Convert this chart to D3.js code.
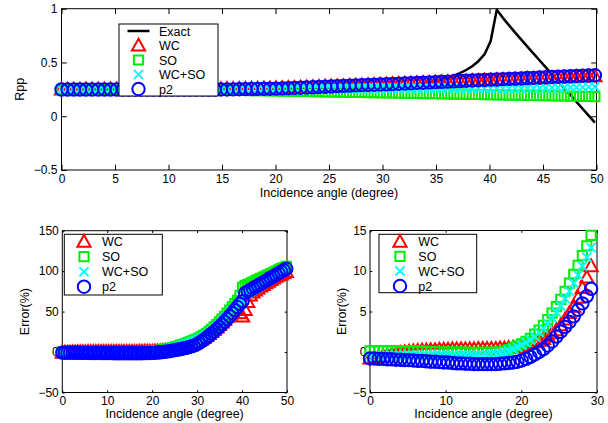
<!DOCTYPE html>
<html>
<head>
<meta charset="utf-8">
<script src="https://cdn.jsdelivr.net/npm/d3@7/dist/d3.min.js"></script>
<style>
  html, body { margin: 0; padding: 0; background: #fff; }
  svg { display: block; }
  text { font-family: "Liberation Sans", Arial, Helvetica, sans-serif; fill: #000; }
</style>
</head>
<body>
<svg id="fig" width="608" height="423"></svg>
<script>
// Incidence angles (degrees), sampled every 0.01 rad
const angleDeg = [
  0.00, 0.57, 1.15, 1.72, 2.29, 2.86, 3.44, 4.01, 4.58, 5.16,
  5.73, 6.30, 6.88, 7.45, 8.02, 8.59, 9.17, 9.74, 10.31, 10.89,
  11.46, 12.03, 12.61, 13.18, 13.75, 14.32, 14.90, 15.47, 16.04, 16.62,
  17.19, 17.76, 18.33, 18.91, 19.48, 20.05, 20.63, 21.20, 21.77, 22.35,
  22.92, 23.49, 24.06, 24.64, 25.21, 25.78, 26.36, 26.93, 27.50, 28.07,
  28.65, 29.22, 29.79, 30.37, 30.94, 31.51, 32.09, 32.66, 33.23, 33.80,
  34.38, 34.95, 35.52, 36.10, 36.67, 37.24, 37.82, 38.39, 38.96, 39.53,
  40.11, 40.68, 41.25, 41.83, 42.40, 42.97, 43.54, 44.12, 44.69, 45.26,
  45.84, 46.41, 46.98, 47.56, 48.13, 48.70, 49.27, 49.85
];

// PP reflection coefficient: exact solution
const rppExact = [
  0.250, 0.250, 0.250, 0.250, 0.250, 0.250, 0.250, 0.250, 0.250, 0.250,
  0.250, 0.250, 0.250, 0.250, 0.250, 0.250, 0.250, 0.250, 0.250, 0.250,
  0.250, 0.250, 0.250, 0.251, 0.251, 0.252, 0.252, 0.253, 0.253, 0.254,
  0.255, 0.256, 0.257, 0.258, 0.259, 0.259, 0.260, 0.261, 0.262, 0.263,
  0.265, 0.266, 0.267, 0.267, 0.268, 0.268, 0.269, 0.269, 0.270, 0.271,
  0.272, 0.273, 0.274, 0.277, 0.281, 0.285, 0.289, 0.293, 0.299, 0.306,
  0.316, 0.327, 0.341, 0.358, 0.378, 0.400, 0.430, 0.465, 0.512, 0.575,
  0.700, 0.990, 0.915, 0.845, 0.778, 0.712, 0.647, 0.582, 0.518, 0.454,
  0.390, 0.326, 0.262, 0.198, 0.134, 0.070, 0.005, -0.060
];

// PP reflection coefficient: approximations
const rppWC = [
  0.248, 0.248, 0.248, 0.248, 0.249, 0.249, 0.249, 0.249, 0.250, 0.250,
  0.250, 0.250, 0.250, 0.250, 0.250, 0.250, 0.251, 0.251, 0.251, 0.251,
  0.251, 0.251, 0.251, 0.252, 0.252, 0.253, 0.253, 0.254, 0.254, 0.255,
  0.256, 0.257, 0.258, 0.259, 0.260, 0.261, 0.262, 0.263, 0.265, 0.267,
  0.269, 0.271, 0.273, 0.275, 0.277, 0.279, 0.281, 0.283, 0.286, 0.288,
  0.290, 0.292, 0.294, 0.296, 0.298, 0.300, 0.303, 0.305, 0.307, 0.309,
  0.311, 0.314, 0.316, 0.318, 0.320, 0.322, 0.325, 0.327, 0.329, 0.331,
  0.333, 0.336, 0.338, 0.340, 0.342, 0.344, 0.347, 0.349, 0.351, 0.353,
  0.355, 0.358, 0.360, 0.362, 0.364, 0.366, 0.369, 0.371
];
const rppSO = [
  0.250, 0.250, 0.250, 0.250, 0.250, 0.250, 0.250, 0.250, 0.250, 0.249,
  0.249, 0.249, 0.249, 0.249, 0.248, 0.248, 0.248, 0.248, 0.247, 0.247,
  0.247, 0.246, 0.246, 0.245, 0.245, 0.244, 0.243, 0.243, 0.242, 0.241,
  0.240, 0.239, 0.238, 0.237, 0.236, 0.235, 0.234, 0.233, 0.232, 0.231,
  0.230, 0.229, 0.228, 0.227, 0.226, 0.225, 0.224, 0.223, 0.222, 0.221,
  0.220, 0.219, 0.218, 0.217, 0.216, 0.215, 0.214, 0.213, 0.212, 0.211,
  0.210, 0.209, 0.208, 0.207, 0.206, 0.205, 0.204, 0.203, 0.202, 0.201,
  0.200, 0.199, 0.198, 0.197, 0.196, 0.195, 0.194, 0.193, 0.192, 0.191,
  0.190, 0.189, 0.188, 0.187, 0.186, 0.185, 0.184, 0.183
];
const rppWCSO = [
  0.249, 0.249, 0.249, 0.249, 0.249, 0.249, 0.249, 0.249, 0.249, 0.249,
  0.249, 0.249, 0.249, 0.249, 0.249, 0.249, 0.249, 0.249, 0.249, 0.249,
  0.249, 0.249, 0.249, 0.249, 0.250, 0.250, 0.250, 0.251, 0.251, 0.251,
  0.252, 0.252, 0.252, 0.253, 0.253, 0.253, 0.254, 0.254, 0.254, 0.255,
  0.255, 0.255, 0.256, 0.256, 0.256, 0.257, 0.257, 0.257, 0.258, 0.258,
  0.258, 0.259, 0.259, 0.259, 0.259, 0.259, 0.259, 0.259, 0.259, 0.259,
  0.259, 0.259, 0.259, 0.259, 0.259, 0.259, 0.259, 0.259, 0.259, 0.259,
  0.259, 0.260, 0.260, 0.260, 0.261, 0.261, 0.262, 0.262, 0.263, 0.264,
  0.265, 0.266, 0.267, 0.268, 0.269, 0.270, 0.272, 0.274
];
const rppP2 = [
  0.248, 0.248, 0.248, 0.248, 0.248, 0.248, 0.248, 0.248, 0.248, 0.248,
  0.248, 0.248, 0.248, 0.248, 0.248, 0.248, 0.248, 0.248, 0.248, 0.248,
  0.248, 0.247, 0.247, 0.247, 0.248, 0.248, 0.249, 0.249, 0.250, 0.251,
  0.252, 0.253, 0.254, 0.255, 0.256, 0.257, 0.259, 0.261, 0.263, 0.265,
  0.267, 0.269, 0.272, 0.274, 0.277, 0.280, 0.282, 0.285, 0.287, 0.289,
  0.291, 0.293, 0.295, 0.297, 0.300, 0.302, 0.305, 0.307, 0.310, 0.312,
  0.315, 0.317, 0.320, 0.322, 0.325, 0.327, 0.330, 0.332, 0.335, 0.337,
  0.340, 0.342, 0.345, 0.347, 0.350, 0.352, 0.355, 0.357, 0.360, 0.362,
  0.365, 0.367, 0.370, 0.372, 0.374, 0.377, 0.379, 0.381
];

// Relative error of each approximation (%)
const errWC = [
  -0.8, -0.7, -0.6, -0.5, -0.4, -0.3, -0.2, -0.1, 0.0, 0.05,
  0.1, 0.15, 0.2, 0.2, 0.25, 0.25, 0.3, 0.3, 0.3, 0.35,
  0.35, 0.35, 0.35, 0.35, 0.35, 0.4, 0.4, 0.4, 0.4, 0.4,
  0.45, 0.45, 0.5, 0.55, 0.6, 0.7, 0.8, 1.0, 1.2, 1.4,
  1.6, 1.9, 2.3, 2.7, 3.3, 4.0, 4.8, 5.6, 6.7, 7.9,
  9.2, 10.6, 12.1, 13.8, 15.6, 17.6, 19.8, 22.2, 24.8, 27.5,
  30.4, 33.4, 36.6, 40.0, 43.5, 47.0, 50.0, 52.0, 54.0, 48.0,
  44.0, 52.0, 62.0, 70.0, 73.5, 76.0, 78.5, 81.0, 83.0, 85.0,
  87.0, 89.0, 91.0, 93.0, 94.5, 96.0, 97.5, 99.0
];
const errSO = [
  0.15, 0.15, 0.15, 0.15, 0.15, 0.15, 0.15, 0.1, 0.1, 0.1,
  0.1, 0.1, 0.1, 0.05, 0.05, 0.05, 0.05, 0.0, 0.0, 0.0,
  0.0, 0.0, 0.0, -0.05, -0.05, -0.05, -0.05, -0.05, 0.0, 0.0,
  0.05, 0.15, 0.3, 0.5, 0.75, 1.0, 1.3, 1.7, 2.2, 2.7,
  3.3, 4.0, 4.8, 5.6, 6.5, 7.5, 8.5, 9.6, 10.7, 11.9,
  13.1, 14.4, 15.8, 17.3, 19.0, 21.0, 23.2, 25.6, 28.2, 31.0,
  34.0, 37.2, 40.6, 44.2, 48.0, 52.0, 56.0, 60.0, 64.0, 70.0,
  80.0, 82.0, 83.5, 85.0, 86.5, 88.0, 89.5, 91.0, 92.5, 94.0,
  95.5, 97.0, 98.5, 100.0, 101.5, 103.0, 104.5, 106.0
];
const errWCSO = [
  -0.5, -0.5, -0.5, -0.45, -0.45, -0.45, -0.45, -0.4, -0.4, -0.4,
  -0.4, -0.4, -0.4, -0.4, -0.4, -0.4, -0.4, -0.4, -0.4, -0.4,
  -0.4, -0.4, -0.4, -0.4, -0.4, -0.4, -0.4, -0.35, -0.3, -0.25,
  -0.15, 0.0, 0.15, 0.35, 0.6, 0.85, 1.15, 1.5, 1.9, 2.4,
  2.9, 3.5, 4.2, 4.9, 5.7, 6.6, 7.5, 8.5, 9.5, 10.6,
  11.7, 12.9, 14.2, 15.6, 17.2, 19.0, 21.0, 23.2, 25.6, 28.2,
  31.0, 34.0, 37.2, 40.6, 44.0, 47.5, 51.0, 54.5, 58.0, 61.0,
  63.0, 71.0, 73.0, 75.0, 77.0, 79.0, 81.0, 83.0, 85.0, 87.0,
  89.0, 91.0, 93.0, 95.0, 97.0, 99.0, 101.0, 103.0
];
const errP2 = [
  -0.8, -0.8, -0.85, -0.85, -0.9, -0.9, -0.95, -0.95, -1.0, -1.0,
  -1.05, -1.1, -1.1, -1.15, -1.2, -1.2, -1.25, -1.3, -1.3, -1.35,
  -1.4, -1.4, -1.45, -1.45, -1.5, -1.5, -1.5, -1.5, -1.5, -1.5,
  -1.45, -1.4, -1.35, -1.3, -1.2, -1.05, -0.85, -0.6, -0.3, 0.0,
  0.35, 0.8, 1.3, 1.9, 2.5, 3.1, 3.7, 4.4, 5.2, 6.0,
  6.9, 7.8, 9.0, 11.0, 13.0, 15.2, 17.6, 20.1, 22.8, 25.4,
  28.2, 31.1, 34.2, 37.4, 40.8, 44.3, 48.0, 51.8, 55.7, 59.5,
  63.0, 73.0, 74.9, 76.8, 78.6, 80.5, 82.4, 84.3, 86.1, 88.0,
  89.9, 91.8, 93.6, 95.5, 97.4, 99.3, 101.1, 103.0
];

// Series names and tick labels
const exactName = "Exact";
const seriesNames = ["WC", "SO", "WC+SO", "p2"];
const topXTicks = [0, 5, 10, 15, 20, 25, 30, 35, 40, 45, 50];
const topYTicks = [-0.5, 0, 0.5, 1];
const topYTickLabels = ["\u22120.5", "0", "0.5", "1"];
const errXTicks = [0, 10, 20, 30, 40, 50];
const errYTicks = [-50, 0, 50, 100, 150];
const errYTickLabels = ["\u221250", "0", "50", "100", "150"];
const zoomXTicks = [0, 10, 20, 30];
const zoomYTicks = [-5, 0, 5, 10, 15];
const zoomYTickLabels = ["\u22125", "0", "5", "10", "15"];
const zoomAngleLimit = 29.5;
const xLabelText = "Incidence angle (degree)";

// ---------- drawing ----------
const svg = d3.select("#fig");
const FONT = 12.5;
const TICK_FONT = 12;

const styles = {
  "WC":    { color: "#ff0000", shape: "tri" },
  "SO":    { color: "#00ee00", shape: "sq" },
  "WC+SO": { color: "#00ffff", shape: "x" },
  "p2":    { color: "#0000ff", shape: "o" }
};

function markerPath(shape) {
  switch (shape) {
    case "tri": return "M0,-6.8L6.6,5L-6.6,5Z";
    case "sq":  return "M-4.6,-4.6H4.6V4.6H-4.6Z";
    case "x":   return "M-4.6,-4.6L4.6,4.6M4.6,-4.6L-4.6,4.6";
    default: {
      const p = d3.path();
      p.arc(0, 0, 6.2, 0, 2 * Math.PI);
      p.closePath();
      return p.toString();
    }
  }
}

function drawMarkers(g, x, y, xs, ys, idx, name) {
  const st = styles[name];
  g.append("g")
    .selectAll("path")
    .data(idx)
    .join("path")
    .attr("d", markerPath(st.shape))
    .attr("transform", i => `translate(${x(xs[i])},${y(ys[i])})`)
    .attr("fill", "none")
    .attr("stroke", st.color)
    .attr("stroke-width", 2);
}

function makeAxes(cfg) {
  const x = d3.scaleLinear().domain(cfg.xDomain).range([cfg.left, cfg.right]);
  const y = d3.scaleLinear().domain(cfg.yDomain).range([cfg.bottom, cfg.top]);
  const g = svg.append("g");

  const styleAxis = sel => {
    sel.select(".domain").remove();
    sel.selectAll(".tick line").attr("stroke", "#000").attr("stroke-width", 1);
    sel.selectAll(".tick text").attr("font-size", TICK_FONT).attr("fill", "#000")
      .attr("font-family", "Liberation Sans, Arial, sans-serif");
  };

  g.append("g").attr("transform", `translate(0,${cfg.bottom})`)
    .call(d3.axisBottom(x).tickValues(cfg.xTicks).tickSizeInner(-cfg.tick)
      .tickSizeOuter(0).tickPadding(cfg.xPad).tickFormat(d3.format("d")))
    .call(styleAxis);
  g.append("g").attr("transform", `translate(0,${cfg.top})`)
    .call(d3.axisTop(x).tickValues(cfg.xTicks).tickSizeInner(-cfg.tick)
      .tickSizeOuter(0).tickFormat(""))
    .call(styleAxis);
  g.append("g").attr("transform", `translate(${cfg.left},0)`)
    .call(d3.axisLeft(y).tickValues(cfg.yTicks).tickSizeInner(-cfg.tick)
      .tickSizeOuter(0).tickPadding(cfg.yPad)
      .tickFormat((d, i) => cfg.yLabels[i]))
    .call(styleAxis);
  g.append("g").attr("transform", `translate(${cfg.right},0)`)
    .call(d3.axisRight(y).tickValues(cfg.yTicks).tickSizeInner(-cfg.tick)
      .tickSizeOuter(0).tickFormat(""))
    .call(styleAxis);

  g.append("rect")
    .attr("x", cfg.left).attr("y", cfg.top)
    .attr("width", cfg.right - cfg.left).attr("height", cfg.bottom - cfg.top)
    .attr("fill", "none").attr("stroke", "#000").attr("stroke-width", 1);

  g.append("text")
    .attr("x", (cfg.left + cfg.right) / 2).attr("y", cfg.xLabelY)
    .attr("text-anchor", "middle").attr("font-size", FONT)
    .text(xLabelText);
  g.append("text")
    .attr("transform", `translate(${cfg.yLabelX},${(cfg.top + cfg.bottom) / 2}) rotate(-90)`)
    .attr("text-anchor", "middle").attr("font-size", FONT)
    .text(cfg.yTitle);

  return { x, y, g };
}

function drawLegend(box, rows, markerX, textX, entries) {
  const lg = svg.append("g");
  lg.append("rect")
    .attr("x", box[0]).attr("y", box[1])
    .attr("width", box[2] - box[0]).attr("height", box[3] - box[1])
    .attr("fill", "#fff").attr("stroke", "#000").attr("stroke-width", 1);
  entries.forEach((e, i) => {
    const yy = rows[i];
    if (e.line) {
      lg.append("line")
        .attr("x1", markerX - 11).attr("x2", markerX + 11)
        .attr("y1", yy).attr("y2", yy)
        .attr("stroke", "#000").attr("stroke-width", 2.5);
    } else {
      const st = styles[e.name];
      lg.append("path")
        .attr("d", markerPath(st.shape))
        .attr("transform", `translate(${markerX},${yy})`)
        .attr("fill", "none").attr("stroke", st.color).attr("stroke-width", 2);
    }
    lg.append("text")
      .attr("x", textX).attr("y", yy).attr("dy", "0.36em")
      .attr("font-size", FONT).text(e.name);
  });
}

// ---------- top panel: Rpp ----------
const rppPanel = makeAxes({
  left: 61.5, right: 596.5, top: 8.7, bottom: 170,
  xDomain: [0, 50], yDomain: [-0.5, 1],
  xTicks: topXTicks, yTicks: topYTicks, yLabels: topYTickLabels,
  tick: 5.3, xPad: 4, yPad: 4,
  xLabelY: 196.5, yLabelX: 24, yTitle: "Rpp"
});
const allIdx = d3.range(angleDeg.length);

rppPanel.g.append("path")
  .datum(allIdx)
  .attr("fill", "none").attr("stroke", "#000").attr("stroke-width", 2.5)
  .attr("stroke-linejoin", "round")
  .attr("d", d3.line().x(i => rppPanel.x(angleDeg[i])).y(i => rppPanel.y(rppExact[i])));

const rppSeries = { "WC": rppWC, "SO": rppSO, "WC+SO": rppWCSO, "p2": rppP2 };
seriesNames.forEach(n => drawMarkers(rppPanel.g, rppPanel.x, rppPanel.y, angleDeg, rppSeries[n], allIdx, n));

drawLegend([119, 24, 218, 96], [31, 45.5, 60, 74.5, 89], 138.5, 159,
  [{ name: exactName, line: true }].concat(seriesNames.map(n => ({ name: n }))));

// ---------- bottom-left: error over full range ----------
const errSeries = { "WC": errWC, "SO": errSO, "WC+SO": errWCSO, "p2": errP2 };
const errPanel = makeAxes({
  left: 62.3, right: 287, top: 230.7, bottom: 392.5,
  xDomain: [0, 50], yDomain: [-50, 150],
  xTicks: errXTicks, yTicks: errYTicks, yLabels: errYTickLabels,
  tick: 2.3, xPad: 4, yPad: 3.5,
  xLabelY: 418, yLabelX: 29, yTitle: "Error(%)"
});
seriesNames.forEach(n => drawMarkers(errPanel.g, errPanel.x, errPanel.y, angleDeg, errSeries[n], allIdx, n));
drawLegend([64.3, 234.3, 162.3, 295], [241.7, 256.7, 271.7, 286.7], 84, 102,
  seriesNames.map(n => ({ name: n })));

// ---------- bottom-right: error, small angles ----------
const zoomPanel = makeAxes({
  left: 370, right: 597, top: 230.5, bottom: 392.5,
  xDomain: [0, 30], yDomain: [-5, 15],
  xTicks: zoomXTicks, yTicks: zoomYTicks, yLabels: zoomYTickLabels,
  tick: 2.3, xPad: 4, yPad: 3.5,
  xLabelY: 418, yLabelX: 346, yTitle: "Error(%)"
});
const zoomIdx = allIdx.filter(i => angleDeg[i] <= zoomAngleLimit);
seriesNames.forEach(n => drawMarkers(zoomPanel.g, zoomPanel.x, zoomPanel.y, angleDeg, errSeries[n], zoomIdx, n));
drawLegend([379, 234.3, 476.7, 292.7], [241.7, 256.3, 271, 286], 400, 418.3,
  seriesNames.map(n => ({ name: n })));
</script>
</body>
</html>
